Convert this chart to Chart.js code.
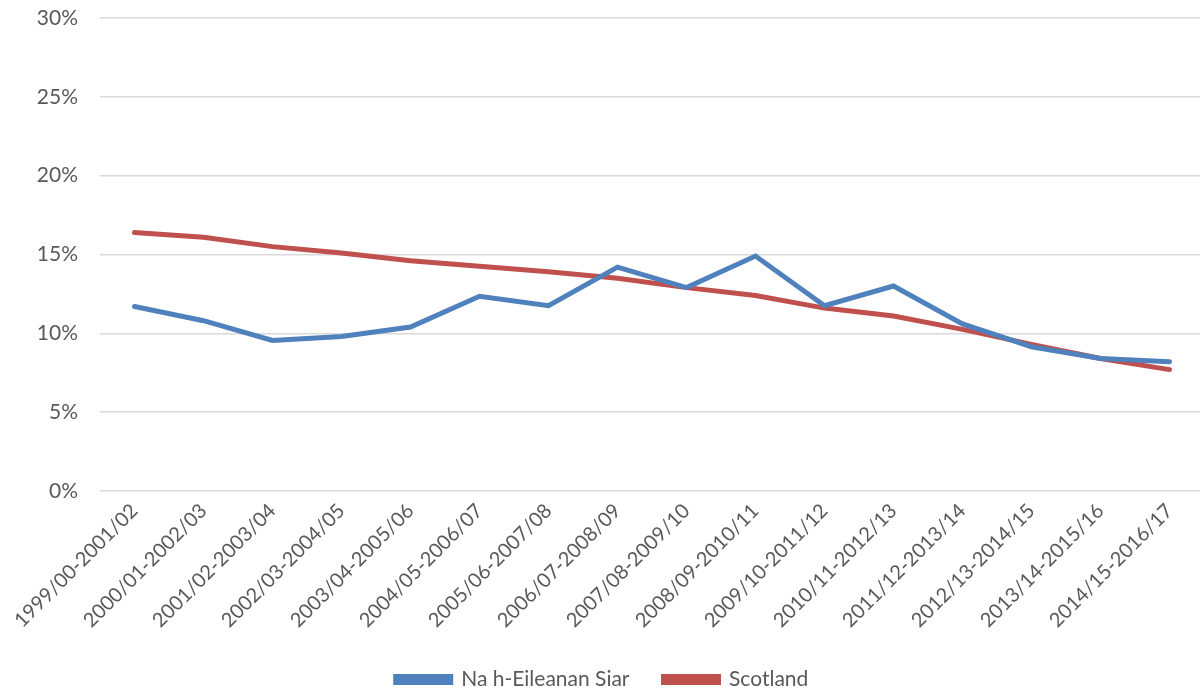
<!DOCTYPE html>
<html>
<head>
<meta charset="utf-8">
<script src="https://cdn.jsdelivr.net/npm/chart.js@4/dist/chart.umd.min.js"></script>
<style>
  html, body { margin: 0; padding: 0; background: #ffffff; overflow: hidden; }
  #wrap { width: 1204px; height: 699px; }
</style>
</head>
<body>
<div id="wrap"><canvas id="grafica"></canvas></div>
<script>
// datos
const periodos = ['1999/00-2001/02', '2000/01-2002/03', '2001/02-2003/04', '2002/03-2004/05',
  '2003/04-2005/06', '2004/05-2006/07', '2005/06-2007/08', '2006/07-2008/09', '2007/08-2009/10',
  '2008/09-2010/11', '2009/10-2011/12', '2010/11-2012/13', '2011/12-2013/14', '2012/13-2014/15',
  '2013/14-2015/16', '2014/15-2016/17'];
const eileananSiar = [11.7, 10.8, 9.55, 9.8, 10.4, 12.35, 11.75, 14.2, 12.9, 14.9, 11.75, 13.0, 10.6, 9.15, 8.4, 8.2];
const escocia = [16.4, 16.1, 15.5, 15.1, 14.6, 14.25, 13.9, 13.5, 12.9, 12.4, 11.6, 11.1, 10.25, 9.3, 8.4, 7.7];
const ticksY = [0, 5, 10, 15, 20, 25, 30];

const fuente = "Lato, 'Open Sans', sans-serif";
const gris = '#595959';

new Chart(document.getElementById('grafica'), {
    type: 'line',
    data: {
        labels: periodos,
        datasets: [
            { label: 'Na h-Eileanan Siar', data: eileananSiar, borderColor: '#4f81bd', backgroundColor: '#4f81bd', borderWidth: 5, pointRadius: 0, tension: 0, borderCapStyle: 'round' },
            { label: 'Scotland', data: escocia, borderColor: '#c0504d', backgroundColor: '#c0504d', borderWidth: 5, pointRadius: 0, tension: 0, borderCapStyle: 'round' }
        ]
    },
    options: {
        responsive: true,
        maintainAspectRatio: false,
        animation: false,
        layout: { padding: { top: 18, left: 0, right: 0, bottom: -1 } },
        plugins: {
            legend: {
                position: 'bottom',
                labels: { color: gris, font: { family: fuente, size: 21 }, boxWidth: 55, boxHeight: 6, padding: 34 }
            },
            tooltip: { enabled: false }
        },
        scales: {
            x: {
                offset: true,
                afterFit: eje => { eje.height = 144; },
                grid: { display: false, drawTicks: false },
                border: { display: false },
                ticks: { color: gris, font: { family: fuente, size: 20 }, minRotation: 45, maxRotation: 45, autoSkip: false, padding: 8 }
            },
            y: {
                min: 0, max: 30,
                afterFit: eje => { eje.width = 100; },
                afterBuildTicks: eje => { eje.ticks = ticksY.map(v => ({ value: v })); },
                grid: { color: '#d9d9d9', lineWidth: 1.5, drawTicks: true, tickLength: 22, tickColor: 'rgba(0,0,0,0)' },
                border: { display: false },
                ticks: { color: gris, font: { family: fuente, size: 21 }, padding: 0, callback: v => v + '%' }
            }
        }
    }
});
</script>
</body>
</html>
